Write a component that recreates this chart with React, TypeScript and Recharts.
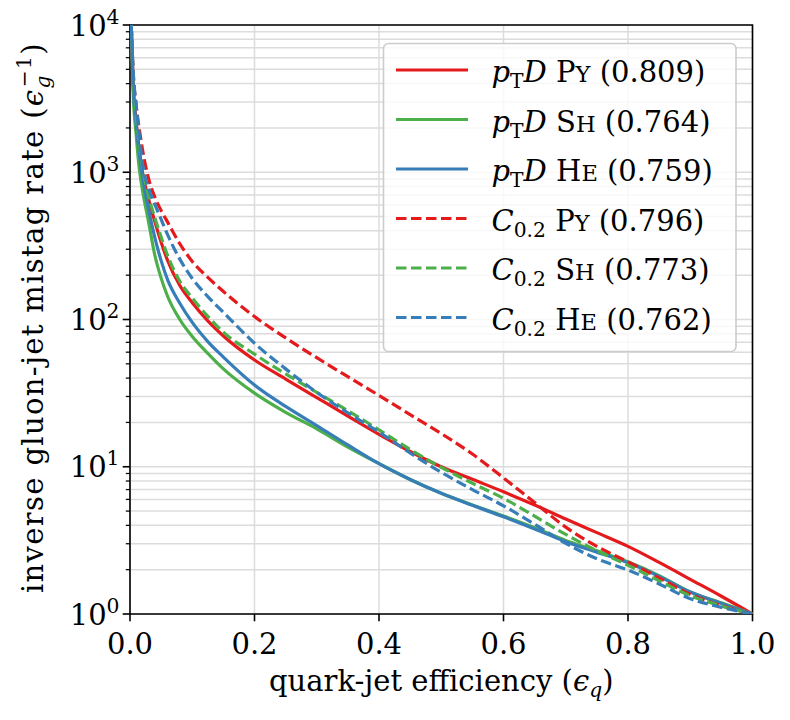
import React from "react";
import {
  CartesianGrid,
  Line,
  LineChart,
  ReferenceArea,
  XAxis,
  YAxis,
} from "recharts";

// quark-jet efficiency grid shared by all curves
const EFF = [
  0.002, 0.005, 0.01, 0.015, 0.02, 0.03, 0.04, 0.05, 0.06, 0.08, 0.1, 0.125,
  0.15, 0.2, 0.25, 0.3, 0.35, 0.4, 0.45, 0.5, 0.55, 0.6, 0.65, 0.7, 0.75, 0.8,
  0.85, 0.9, 0.95, 1.0,
];

// inverse gluon mistag rate
const PTD_PY = [
  10000, 4170, 2190, 1410, 1000, 653, 460, 335, 254, 170, 130, 98, 77.3, 53.1,
  39.4, 29.5, 22.1, 16.6, 12.7, 10, 8.22, 6.76, 5.5, 4.42, 3.57, 2.88, 2.24,
  1.72, 1.32, 1,
];
const PTD_SH = [
  10000, 3550, 1780, 1050, 759, 457, 272, 191, 145, 100, 76.7, 58.9, 46.2, 31.6,
  23.4, 18.1, 13.6, 10.5, 8.2, 6.6, 5.5, 4.62, 3.85, 3.16, 2.69, 2.26, 1.82,
  1.41, 1.19, 1,
];
const PTD_HE = [
  10000, 3980, 2090, 1350, 944, 556, 359, 251, 188, 129, 95.5, 70.8, 55.6, 35.9,
  25.7, 19.05, 14.06, 10.5, 8.2, 6.6, 5.47, 4.57, 3.78, 3.1, 2.63, 2.23, 1.8,
  1.41, 1.18, 1,
];
const C02_PY = [
  10000, 4790, 2820, 1950, 1430, 900, 676, 550, 462, 327, 248, 193, 155, 104.7,
  75, 55, 40.9, 30.5, 22.6, 16.8, 12.2, 8.4, 5.71, 3.89, 2.88, 2.26, 1.76, 1.36,
  1.14, 1,
];
const C02_SH = [
  10000, 4570, 2400, 1550, 1096, 684, 490, 363, 275, 182, 140, 105, 82, 58.2,
  42.7, 32, 24, 17.8, 13.1, 9.9, 7.73, 6.1, 4.62, 3.47, 2.69, 2.14, 1.68, 1.33,
  1.135, 1,
];
const C02_HE = [
  10000, 5010, 2820, 1780, 1150, 776, 603, 479, 380, 257, 190, 143, 112, 69,
  46.2, 32, 23.2, 17.2, 12.4, 9.16, 7.0, 5.43, 4.07, 3.02, 2.37, 1.99, 1.6,
  1.27, 1.11, 1,
];

const X_TICKS = [0, 0.2, 0.4, 0.6, 0.8, 1.0];
const X_TICK_LABELS = ["0.0", "0.2", "0.4", "0.6", "0.8", "1.0"];
const Y_MAJOR = [1, 10, 100, 1000, 10000];
const Y_MAJOR_EXP = ["0", "1", "2", "3", "4"];
const Y_MINOR_MANTISSA = [2, 3, 4, 5, 6, 7, 8, 9];

type Series = {
  key: string;
  obs: string;
  gen: string;
  auc: string;
  color: string;
  dashed: boolean;
};

const RED = "#e41a1c";
const GREEN = "#4daf4a";
const BLUE = "#377eb8";

const SERIES: Series[] = [
  { key: "ptdPy", obs: "ptd", gen: "PY", auc: "0.809", color: RED, dashed: false },
  { key: "ptdSh", obs: "ptd", gen: "SH", auc: "0.764", color: GREEN, dashed: false },
  { key: "ptdHe", obs: "ptd", gen: "HE", auc: "0.759", color: BLUE, dashed: false },
  { key: "cPy", obs: "c02", gen: "PY", auc: "0.796", color: RED, dashed: true },
  { key: "cSh", obs: "c02", gen: "SH", auc: "0.773", color: GREEN, dashed: true },
  { key: "cHe", obs: "c02", gen: "HE", auc: "0.762", color: BLUE, dashed: true },
];

const data = EFF.map((e, i) => ({
  e,
  ptdPy: PTD_PY[i],
  ptdSh: PTD_SH[i],
  ptdHe: PTD_HE[i],
  cPy: C02_PY[i],
  cSh: C02_SH[i],
  cHe: C02_HE[i],
}));

const yTicks = Y_MAJOR.flatMap((d) =>
  d < 10000 ? [d, ...Y_MINOR_MANTISSA.map((m) => m * d)] : [d]
);

const FONT = "DejaVu Serif";
const FS = 29;
const SUB = 20.3;
const DASH = "10.5 4.5";
const LW = 3.2;

const PLOT_LEFT = 130;
const PLOT_RIGHT = 752.5;
const PLOT_TOP = 25;
const PLOT_BOTTOM = 614;

function XTick(props: any) {
  const { x, y, payload } = props;
  const idx = X_TICKS.indexOf(payload.value);
  return (
    <g>
      <line x1={x} x2={x} y1={y} y2={y + 7.3} stroke="#000" strokeWidth={1.6} />
      <text x={x} y={y + 40} textAnchor="middle" fontSize={FS} fill="#000" fontFamily={FONT}>
        {X_TICK_LABELS[idx]}
      </text>
    </g>
  );
}

function YTick(props: any) {
  const { x, y, payload } = props;
  const idx = Y_MAJOR.indexOf(payload.value);
  if (idx < 0) {
    return <line x1={x - 4.2} x2={x} y1={y} y2={y} stroke="#000" strokeWidth={1.25} />;
  }
  return (
    <g>
      <line x1={x - 7.3} x2={x} y1={y} y2={y} stroke="#000" strokeWidth={1.6} />
      <text x={x - 10.5} y={y + 10.5} textAnchor="end" fontSize={FS} fill="#000" fontFamily={FONT}>
        <tspan>10</tspan>
        <tspan fontSize={SUB} dy={-12}>
          {Y_MAJOR_EXP[idx]}
        </tspan>
      </text>
    </g>
  );
}

function LegendLabel({ s, x, y }: { s: Series; x: number; y: number }) {
  return (
    <text x={x} y={y} fontSize={FS} fill="#000" fontFamily={FONT} style={{ whiteSpace: "pre" }}>
      {s.obs === "ptd" ? (
        <>
          <tspan fontStyle="italic">p</tspan>
          <tspan fontSize={SUB} dy={6}>T</tspan>
          <tspan fontStyle="italic" dy={-6}>D</tspan>
        </>
      ) : (
        <>
          <tspan fontStyle="italic">C</tspan>
          <tspan fontSize={SUB} dy={6}>0.2</tspan>
          <tspan dy={-6}>{" "}</tspan>
        </>
      )}
      <tspan>{s.obs === "ptd" ? " " + s.gen[0] : s.gen[0]}</tspan>
      <tspan fontSize={22.5}>{s.gen[1]}</tspan>
      <tspan>{" (" + s.auc + ")"}</tspan>
    </text>
  );
}

function LegendBox() {
  const left = 383.5;
  const top = 43.5;
  const rowY = [70, 119.5, 169, 218.5, 268, 317.5];
  return (
    <svg
      width={790}
      height={720}
      style={{ position: "absolute", left: 0, top: 0, pointerEvents: "none" }}
    >
      <rect
        x={left}
        y={top}
        width={352.5}
        height={308}
        rx={5}
        fill="#ffffff"
        fillOpacity={0.8}
        stroke="#cccccc"
        strokeWidth={1.6}
      />
      {SERIES.map((s, i) => (
        <g key={s.key}>
          <line
            x1={396}
            x2={468}
            y1={rowY[i]}
            y2={rowY[i]}
            stroke={s.color}
            strokeWidth={LW}
            strokeDasharray={s.dashed ? DASH : undefined}
          />
          <LegendLabel s={s} x={491.5} y={rowY[i] + 12} />
        </g>
      ))}
    </svg>
  );
}

function AxisTitles() {
  const cx = (PLOT_LEFT + PLOT_RIGHT) / 2;
  const cy = (PLOT_TOP + PLOT_BOTTOM) / 2;
  return (
    <svg
      width={790}
      height={720}
      style={{ position: "absolute", left: 0, top: 0, pointerEvents: "none" }}
    >
      <text x={cx} y={691} textAnchor="middle" fontSize={FS} fill="#000" fontFamily={FONT}>
        <tspan>quark-jet efficiency (</tspan>
        <tspan fontStyle="italic">ϵ</tspan>
        <tspan fontStyle="italic" fontSize={SUB} dy={6}>q</tspan>
        <tspan dy={-6}>)</tspan>
      </text>
      <text
        x={0}
        y={0}
        transform={`translate(43, ${cy - 2}) rotate(-90)`}
        textAnchor="middle"
        fontSize={FS}
        letterSpacing={1.35}
        fill="#000"
        fontFamily={FONT}
      >
        <tspan>inverse gluon-jet mistag rate (</tspan>
        <tspan fontStyle="italic">ϵ</tspan>
        <tspan fontStyle="italic" fontSize={SUB} dy={7}>g</tspan>
        <tspan fontSize={SUB} dx={-13} dy={-19}>−1</tspan>
        <tspan dy={12}>)</tspan>
      </text>
    </svg>
  );
}

export default function App() {
  return (
    <div style={{ position: "absolute", left: 0, top: 0, width: 790, height: 720, background: "#fff" }}>
      <LineChart
        width={790}
        height={720}
        data={data}
        margin={{ top: PLOT_TOP, right: 790 - PLOT_RIGHT, bottom: 0, left: 0 }}
        style={{ fontFamily: FONT }}
      >
        <CartesianGrid stroke="#dcdcdc" strokeWidth={1.5} />
        <XAxis
          dataKey="e"
          type="number"
          domain={[0, 1]}
          ticks={X_TICKS}
          interval={0}
          allowDataOverflow
          height={720 - PLOT_BOTTOM}
          axisLine={false}
          tickLine={false}
          tickSize={0}
          tickMargin={0}
          tick={(p: any) => <XTick {...p} />}
        />
        <YAxis
          type="number"
          scale="log"
          domain={[1, 10000]}
          ticks={yTicks}
          interval={0}
          allowDataOverflow
          width={PLOT_LEFT}
          axisLine={false}
          tickLine={false}
          tickSize={0}
          tickMargin={0}
          tick={(p: any) => <YTick {...p} />}
        />
        {SERIES.map((s) => (
          <Line
            key={s.key}
            dataKey={s.key}
            type="monotone"
            stroke={s.color}
            strokeWidth={LW}
            strokeDasharray={s.dashed ? DASH : undefined}
            dot={false}
            activeDot={false}
            isAnimationActive={false}
          />
        ))}
        <ReferenceArea
          x1={0}
          x2={1}
          y1={1}
          y2={10000}
          fill="none"
          stroke="#000"
          strokeWidth={1.6}
          ifOverflow="visible"
        />
      </LineChart>
      <LegendBox />
      <AxisTitles />
    </div>
  );
}
